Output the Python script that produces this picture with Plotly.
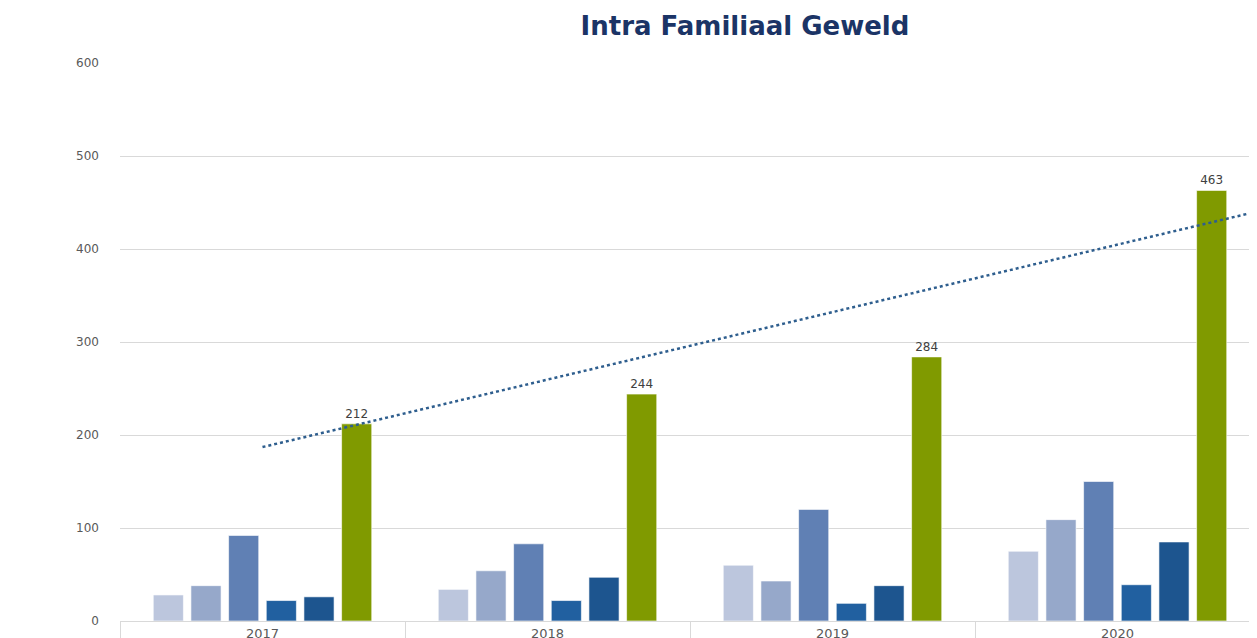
import plotly.graph_objects as go

years = ["2017", "2018", "2019", "2020"]
series_names = ["Reeks 1", "Reeks 2", "Reeks 3", "Reeks 4", "Reeks 5", "Totaal"]
s1 = [28, 34, 60, 75]
s2 = [38, 54, 43, 109]
s3 = [92, 83, 120, 150]
s4 = [22, 22, 19, 39]
s5 = [26, 47, 38, 85]
total = [212, 244, 284, 463]
trend_x = [0, 3.5]
trend_y = [187, 441]

colors = ["#BCC6DD", "#96A8CA", "#6080B4", "#2160A0", "#1D558F", "#809A00"]
all_series = [s1, s2, s3, s4, s5, total]

fig = go.Figure()
for i, (name, vals) in enumerate(zip(series_names, all_series)):
    is_total = i == len(all_series) - 1
    fig.add_trace(go.Bar(
        x=years, y=vals, name=name,
        marker=dict(color=colors[i], line=dict(color="rgba(255,255,255,0.6)", width=1)),
        text=[str(v) for v in vals] if is_total else None,
        textposition="outside" if is_total else None,
        textfont=dict(family="DejaVu Sans", size=12, color="#404040"),
        cliponaxis=False,
    ))

fig.add_trace(go.Scatter(
    x=trend_x, y=trend_y, mode="lines", xaxis="x2",
    line=dict(color="#2E5E8E", width=2.5, dash="dot"),
    showlegend=False, hoverinfo="skip",
))

fig.update_layout(
    width=1257, height=638,
    paper_bgcolor="white", plot_bgcolor="white",
    margin=dict(l=112, r=5, t=55, b=25, autoexpand=False),
    showlegend=False,
    barmode="group", bargap=0.207, bargroupgap=0.2,
    title=dict(
        text="<b>Intra Familiaal Geweld</b>",
        x=0.5863, xref="container", xanchor="center",
        y=0.972, yref="container", yanchor="middle",
        font=dict(family="DejaVu Sans", size=26, color="#1B3466"),
        automargin=False,
    ),
    xaxis=dict(
        type="category", range=[-0.5, 3.5], automargin=False,
        showline=True, linecolor="#D9D9D9", linewidth=1,
        ticks="outside", tickson="boundaries", ticklen=20, tickcolor="#D9D9D9",
        tickfont=dict(family="DejaVu Sans", size=13, color="#595959"),
        showgrid=False,
    ),
    xaxis2=dict(
        overlaying="x", range=[-0.5, 3.5], visible=False,
    ),
    yaxis=dict(
        range=[0, 600], dtick=100, automargin=False,
        showgrid=True, gridcolor="#D9D9D9", gridwidth=1,
        zeroline=False, showline=False,
        tickfont=dict(family="DejaVu Sans", size=12, color="#595959"),
        ticklabelstandoff=20,
    ),
)

fig.write_html("out.html")
